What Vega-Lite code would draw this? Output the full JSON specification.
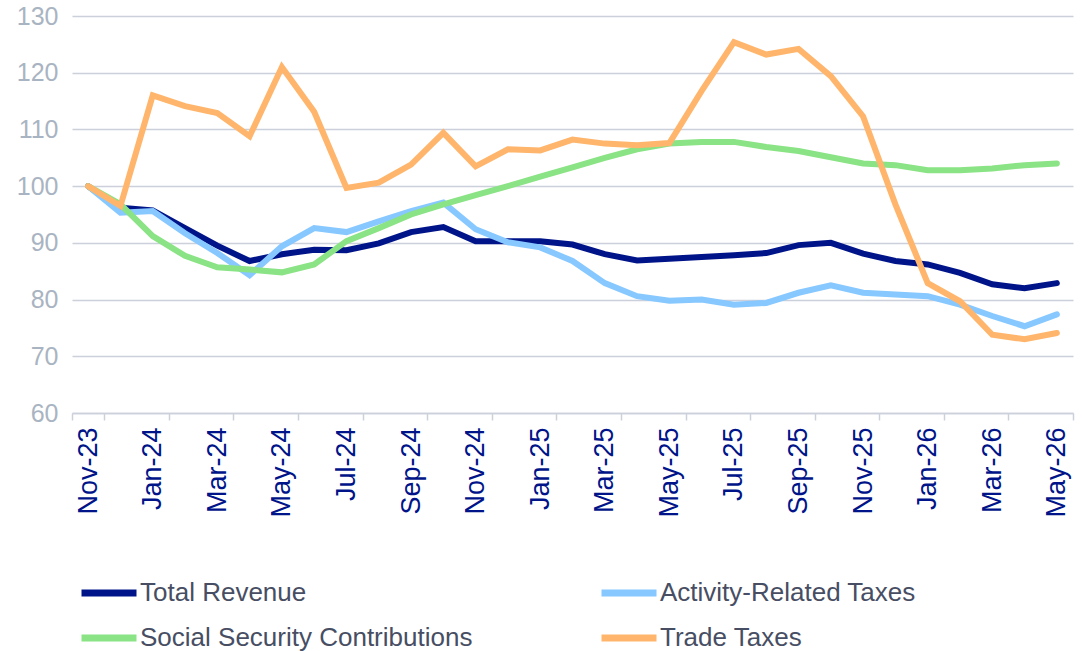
{
  "$schema": "https://vega.github.io/schema/vega-lite/v6.json",
  "width": 1001,
  "height": 397,
  "autosize": {"type": "none"},
  "padding": {"left": 72, "top": 16, "right": 13, "bottom": 238},
  "background": "white",
  "config": {"view": {"stroke": null}, "font": "Liberation Sans"},
  "data": {"values": [
    {"month":"Nov-23","series":"Total Revenue","value":100},
    {"month":"Dec-23","series":"Total Revenue","value":96.2},
    {"month":"Jan-24","series":"Total Revenue","value":95.7},
    {"month":"Feb-24","series":"Total Revenue","value":92.6},
    {"month":"Mar-24","series":"Total Revenue","value":89.5},
    {"month":"Apr-24","series":"Total Revenue","value":86.8},
    {"month":"May-24","series":"Total Revenue","value":88.0},
    {"month":"Jun-24","series":"Total Revenue","value":88.8},
    {"month":"Jul-24","series":"Total Revenue","value":88.7},
    {"month":"Aug-24","series":"Total Revenue","value":89.9},
    {"month":"Sep-24","series":"Total Revenue","value":91.9},
    {"month":"Oct-24","series":"Total Revenue","value":92.8},
    {"month":"Nov-24","series":"Total Revenue","value":90.3},
    {"month":"Dec-24","series":"Total Revenue","value":90.3},
    {"month":"Jan-25","series":"Total Revenue","value":90.3},
    {"month":"Feb-25","series":"Total Revenue","value":89.7},
    {"month":"Mar-25","series":"Total Revenue","value":88.0},
    {"month":"Apr-25","series":"Total Revenue","value":86.9},
    {"month":"May-25","series":"Total Revenue","value":87.2},
    {"month":"Jun-25","series":"Total Revenue","value":87.5},
    {"month":"Jul-25","series":"Total Revenue","value":87.8},
    {"month":"Aug-25","series":"Total Revenue","value":88.2},
    {"month":"Sep-25","series":"Total Revenue","value":89.6},
    {"month":"Oct-25","series":"Total Revenue","value":90.0},
    {"month":"Nov-25","series":"Total Revenue","value":88.1},
    {"month":"Dec-25","series":"Total Revenue","value":86.8},
    {"month":"Jan-26","series":"Total Revenue","value":86.2},
    {"month":"Feb-26","series":"Total Revenue","value":84.7},
    {"month":"Mar-26","series":"Total Revenue","value":82.7},
    {"month":"Apr-26","series":"Total Revenue","value":82.0},
    {"month":"May-26","series":"Total Revenue","value":82.9},
    {"month":"Nov-23","series":"Activity-Related Taxes","value":100},
    {"month":"Dec-23","series":"Activity-Related Taxes","value":95.3},
    {"month":"Jan-24","series":"Activity-Related Taxes","value":95.6},
    {"month":"Feb-24","series":"Activity-Related Taxes","value":91.7},
    {"month":"Mar-24","series":"Activity-Related Taxes","value":88.2},
    {"month":"Apr-24","series":"Activity-Related Taxes","value":84.3},
    {"month":"May-24","series":"Activity-Related Taxes","value":89.4},
    {"month":"Jun-24","series":"Activity-Related Taxes","value":92.6},
    {"month":"Jul-24","series":"Activity-Related Taxes","value":91.9},
    {"month":"Aug-24","series":"Activity-Related Taxes","value":93.8},
    {"month":"Sep-24","series":"Activity-Related Taxes","value":95.6},
    {"month":"Oct-24","series":"Activity-Related Taxes","value":97.1},
    {"month":"Nov-24","series":"Activity-Related Taxes","value":92.4},
    {"month":"Dec-24","series":"Activity-Related Taxes","value":90.1},
    {"month":"Jan-25","series":"Activity-Related Taxes","value":89.2},
    {"month":"Feb-25","series":"Activity-Related Taxes","value":86.8},
    {"month":"Mar-25","series":"Activity-Related Taxes","value":82.9},
    {"month":"Apr-25","series":"Activity-Related Taxes","value":80.6},
    {"month":"May-25","series":"Activity-Related Taxes","value":79.8},
    {"month":"Jun-25","series":"Activity-Related Taxes","value":80.0},
    {"month":"Jul-25","series":"Activity-Related Taxes","value":79.1},
    {"month":"Aug-25","series":"Activity-Related Taxes","value":79.4},
    {"month":"Sep-25","series":"Activity-Related Taxes","value":81.2},
    {"month":"Oct-25","series":"Activity-Related Taxes","value":82.5},
    {"month":"Nov-25","series":"Activity-Related Taxes","value":81.2},
    {"month":"Dec-25","series":"Activity-Related Taxes","value":80.9},
    {"month":"Jan-26","series":"Activity-Related Taxes","value":80.6},
    {"month":"Feb-26","series":"Activity-Related Taxes","value":79.1},
    {"month":"Mar-26","series":"Activity-Related Taxes","value":77.1},
    {"month":"Apr-26","series":"Activity-Related Taxes","value":75.3},
    {"month":"May-26","series":"Activity-Related Taxes","value":77.4},
    {"month":"Nov-23","series":"Social Security Contributions","value":100},
    {"month":"Dec-23","series":"Social Security Contributions","value":96.8},
    {"month":"Jan-24","series":"Social Security Contributions","value":91.2},
    {"month":"Feb-24","series":"Social Security Contributions","value":87.7},
    {"month":"Mar-24","series":"Social Security Contributions","value":85.7},
    {"month":"Apr-24","series":"Social Security Contributions","value":85.3},
    {"month":"May-24","series":"Social Security Contributions","value":84.8},
    {"month":"Jun-24","series":"Social Security Contributions","value":86.2},
    {"month":"Jul-24","series":"Social Security Contributions","value":90.3},
    {"month":"Aug-24","series":"Social Security Contributions","value":92.6},
    {"month":"Sep-24","series":"Social Security Contributions","value":95.0},
    {"month":"Oct-24","series":"Social Security Contributions","value":96.8},
    {"month":"Nov-24","series":"Social Security Contributions","value":98.4},
    {"month":"Dec-24","series":"Social Security Contributions","value":100.0},
    {"month":"Jan-25","series":"Social Security Contributions","value":101.7},
    {"month":"Feb-25","series":"Social Security Contributions","value":103.3},
    {"month":"Mar-25","series":"Social Security Contributions","value":105.0},
    {"month":"Apr-25","series":"Social Security Contributions","value":106.5},
    {"month":"May-25","series":"Social Security Contributions","value":107.5},
    {"month":"Jun-25","series":"Social Security Contributions","value":107.8},
    {"month":"Jul-25","series":"Social Security Contributions","value":107.8},
    {"month":"Aug-25","series":"Social Security Contributions","value":106.9},
    {"month":"Sep-25","series":"Social Security Contributions","value":106.2},
    {"month":"Oct-25","series":"Social Security Contributions","value":105.1},
    {"month":"Nov-25","series":"Social Security Contributions","value":104.0},
    {"month":"Dec-25","series":"Social Security Contributions","value":103.7},
    {"month":"Jan-26","series":"Social Security Contributions","value":102.8},
    {"month":"Feb-26","series":"Social Security Contributions","value":102.8},
    {"month":"Mar-26","series":"Social Security Contributions","value":103.1},
    {"month":"Apr-26","series":"Social Security Contributions","value":103.7},
    {"month":"May-26","series":"Social Security Contributions","value":104.0},
    {"month":"Nov-23","series":"Trade Taxes","value":100},
    {"month":"Dec-23","series":"Trade Taxes","value":96.5},
    {"month":"Jan-24","series":"Trade Taxes","value":116.0},
    {"month":"Feb-24","series":"Trade Taxes","value":114.1},
    {"month":"Mar-24","series":"Trade Taxes","value":112.9},
    {"month":"Apr-24","series":"Trade Taxes","value":108.8},
    {"month":"May-24","series":"Trade Taxes","value":121.0},
    {"month":"Jun-24","series":"Trade Taxes","value":113.1},
    {"month":"Jul-24","series":"Trade Taxes","value":99.7},
    {"month":"Aug-24","series":"Trade Taxes","value":100.6},
    {"month":"Sep-24","series":"Trade Taxes","value":103.8},
    {"month":"Oct-24","series":"Trade Taxes","value":109.4},
    {"month":"Nov-24","series":"Trade Taxes","value":103.5},
    {"month":"Dec-24","series":"Trade Taxes","value":106.5},
    {"month":"Jan-25","series":"Trade Taxes","value":106.3},
    {"month":"Feb-25","series":"Trade Taxes","value":108.2},
    {"month":"Mar-25","series":"Trade Taxes","value":107.5},
    {"month":"Apr-25","series":"Trade Taxes","value":107.2},
    {"month":"May-25","series":"Trade Taxes","value":107.6},
    {"month":"Jun-25","series":"Trade Taxes","value":116.8},
    {"month":"Jul-25","series":"Trade Taxes","value":125.4},
    {"month":"Aug-25","series":"Trade Taxes","value":123.2},
    {"month":"Sep-25","series":"Trade Taxes","value":124.2},
    {"month":"Oct-25","series":"Trade Taxes","value":119.4},
    {"month":"Nov-25","series":"Trade Taxes","value":112.3},
    {"month":"Dec-25","series":"Trade Taxes","value":96.8},
    {"month":"Jan-26","series":"Trade Taxes","value":82.9},
    {"month":"Feb-26","series":"Trade Taxes","value":79.7},
    {"month":"Mar-26","series":"Trade Taxes","value":73.8},
    {"month":"Apr-26","series":"Trade Taxes","value":73.0},
    {"month":"May-26","series":"Trade Taxes","value":74.1}
  ]},
  "mark": {"type": "line", "strokeWidth": 6, "strokeCap": "round"},
  "encoding": {
    "x": {
      "field": "month", "type": "ordinal", "sort": null, "bandPosition": 0.5,
      "scale": {"type": "band", "paddingInner": 0, "paddingOuter": 0},
      "axis": {
        "title": null,
        "values": ["Nov-23","Jan-24","Mar-24","May-24","Jul-24","Sep-24","Nov-24","Jan-25","Mar-25","May-25","Jul-25","Sep-25","Nov-25","Jan-26","Mar-26","May-26"],
        "tickBand": "extent",
        "labelAngle": -90, "labelAlign": "right", "labelBaseline": "middle",
        "labelColor": "#001489", "labelFontSize": 27, "labelFont": "Liberation Sans",
        "labelPadding": 7, "tickColor": "#CBD0DA", "tickSize": 7, "tickWidth": 1.5,
        "domainColor": "#CBD0DA", "domainWidth": 1.5, "grid": false, "labelOverlap": false
      }
    },
    "y": {
      "field": "value", "type": "quantitative",
      "scale": {"domain": [60, 130], "nice": false, "zero": false},
      "axis": {
        "title": null, "values": [60, 70, 80, 90, 100, 110, 120, 130],
        "labelColor": "#A9B4C2", "labelFontSize": 25, "labelFont": "Liberation Sans",
        "labelPadding": 14, "ticks": false, "domain": false,
        "gridColor": "#CBD0DA", "gridWidth": 1.5
      }
    },
    "color": {
      "field": "series", "type": "nominal",
      "scale": {
        "domain": ["Total Revenue", "Activity-Related Taxes", "Social Security Contributions", "Trade Taxes"],
        "range": ["#001489", "#86C8FF", "#8AE384", "#FFB56B"]
      },
      "legend": {
        "title": null, "orient": "none", "legendX": 6, "legendY": 546,
        "direction": "horizontal",
        "columns": 2, "columnPadding": 114, "rowPadding": -20,
        "symbolType": "stroke", "symbolStrokeWidth": 7, "symbolSize": 3025,
        "labelFontSize": 26, "labelFont": "Liberation Sans", "labelColor": "#474E63",
        "labelOffset": 0, "labelLimit": 500
      }
    }
  }
}
